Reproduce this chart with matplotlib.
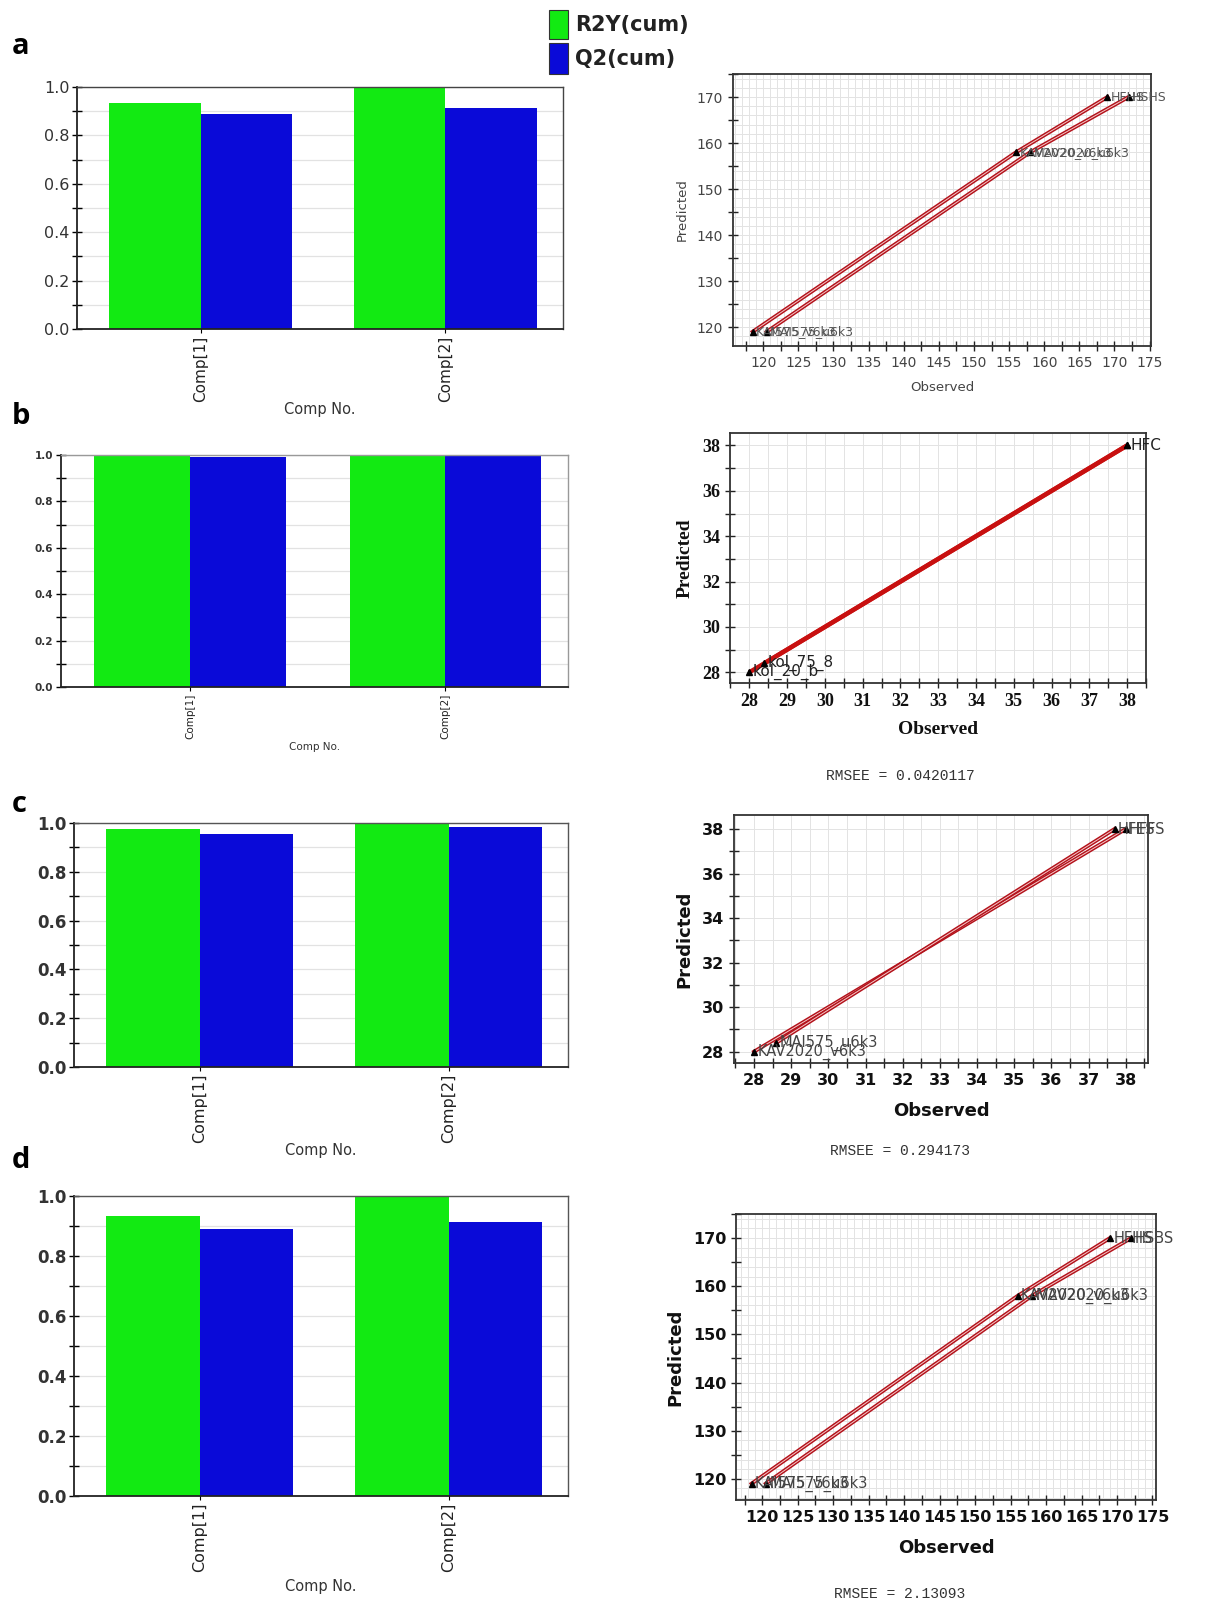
import numpy as np
import matplotlib
matplotlib.use('Agg')
import matplotlib.pyplot as plt
from matplotlib.patches import Rectangle
from matplotlib.ticker import MultipleLocator, FormatStrFormatter

W, H = 1207, 1604

# ---- data ----
comps = ['Comp[1]', 'Comp[2]']
r2y_a = [0.935, 1.0]
q2_a = [0.89, 0.915]
r2y_b = [1.0, 1.0]
q2_b = [0.99, 0.998]
r2y_c = [0.975, 1.0]
q2_c = [0.955, 0.985]
r2y_d = [0.935, 1.0]
q2_d = [0.89, 0.915]

# observed vs predicted, two fitted paths per panel
obs_a1 = [118.5, 156.0, 169.0]
pred_a1 = [119.0, 158.0, 170.0]
obs_a2 = [120.5, 158.0, 172.0]
pred_a2 = [119.0, 158.0, 170.0]
names_a1 = ['KAI575_v6k3', 'KAV2020_v6k3', 'HFHS']
names_a2 = ['MAI575_u6k3', 'MAV2020_u6k3', 'HSHS']

obs_b1 = [28.0, 38.0]
pred_b1 = [28.0, 38.0]
obs_b2 = [28.4, 38.0]
pred_b2 = [28.4, 38.0]
names_b1 = ['kol_20_b', 'HFC']
names_b2 = ['kol_75_8', '']

obs_c1 = [28.0, 38.0]
pred_c1 = [28.0, 38.0]
obs_c2 = [28.6, 37.7]
pred_c2 = [28.4, 38.0]
names_c1 = ['KAV2020_v6k3', 'HFFS']
names_c2 = ['MAI575_u6k3', 'HFES']

obs_d1 = [118.5, 156.0, 169.0]
pred_d1 = [119.0, 158.0, 170.0]
obs_d2 = [120.5, 158.0, 172.0]
pred_d2 = [119.0, 158.0, 170.0]
names_d1 = ['KAI575_v6k3', 'KAV2020_v6k3', 'HFHS']
names_d2 = ['MAI575_u6k3', 'MAV2020_u6k3', 'HSBS']

rmsee_b = 'RMSEE = 0.0420117'
rmsee_c = 'RMSEE = 0.294173'
rmsee_d = 'RMSEE = 2.13093'

GREEN = '#12ea12'
BLUE = '#0a0ad8'
RED = '#b3121b'

fig = plt.figure(figsize=(W / 100, H / 100), dpi=100)


def px_axes(l, t, r, b):
    return fig.add_axes([l / W, 1 - b / H, (r - l) / W, (b - t) / H])


def bar_panel(box, r2y, q2, tick_fs, comp_fs, lab_fs, bold=False,
              top_col='#555555', labelpad=2):
    ax = px_axes(*box)
    x = np.arange(len(comps))
    w = 0.375
    ax.bar(x - w / 2, r2y, w, color=GREEN, zorder=2)
    ax.bar(x + w / 2, q2, w, color=BLUE, zorder=2)
    ax.set_xlim(-0.505, 1.48)
    ax.set_ylim(0, 1.0)
    ax.yaxis.set_major_locator(MultipleLocator(0.2))
    ax.yaxis.set_minor_locator(MultipleLocator(0.1))
    ax.yaxis.set_major_formatter(FormatStrFormatter('%.1f'))
    ax.grid(axis='y', which='both', color='#e2e2e2', lw=0.9, zorder=0)
    ax.tick_params(axis='y', which='both', direction='inout', length=7,
                   width=1.0, labelsize=tick_fs, pad=2)
    ax.set_xticks(x)
    ax.set_xticklabels(comps, rotation=90, fontsize=comp_fs, color='#222222')
    ax.tick_params(axis='x', direction='inout', length=6, pad=2)
    for lbl in ax.get_yticklabels():
        lbl.set_fontweight('bold' if bold else 'normal')
        lbl.set_color('#333333')
    ax.set_xlabel('Comp No.', fontsize=lab_fs, color='#333333', labelpad=labelpad)
    for s in ('left', 'bottom'):
        ax.spines[s].set_color('#222222')
        ax.spines[s].set_linewidth(1.3)
    for s in ('top', 'right'):
        ax.spines[s].set_color(top_col)
        ax.spines[s].set_linewidth(1.0)
    return ax


def red_path(ax, xs, ys, solid=False):
    if solid:
        ax.plot(xs, ys, color='#c81010', lw=3.2, zorder=3, solid_capstyle='butt')
    else:
        ax.plot(xs, ys, color=RED, lw=2.8, zorder=3)
        ax.plot(xs, ys, color='#f6c9c9', lw=0.7, zorder=3)


def scatter_panel(box, xlim, ylim, xmaj, xmin, ymaj, ymin, gx, gy, series,
                  tick_fs, lab_fs, family, weight, tick_col, solid=False,
                  name_fs=9, name_col='#333333', xpad=8):
    ax = px_axes(*box)
    for xs, ys, names in series:
        red_path(ax, xs, ys, solid)
    for xs, ys, names in series:
        ax.plot(xs, ys, '^', color='black', ms=4.5, zorder=4, ls='none')
        for xv, yv, nm in zip(xs, ys, names):
            if nm:
                ax.text(xv + (xlim[1] - xlim[0]) * 0.008, yv, nm, fontsize=name_fs,
                        color=name_col, va='center', ha='left', zorder=5,
                        clip_on=False)
    ax.set_xlim(*xlim)
    ax.set_ylim(*ylim)
    ax.xaxis.set_major_locator(MultipleLocator(xmaj))
    ax.xaxis.set_minor_locator(MultipleLocator(xmin))
    ax.yaxis.set_major_locator(MultipleLocator(ymaj))
    ax.yaxis.set_minor_locator(MultipleLocator(ymin))
    # dense background grid
    for v in np.arange(np.ceil(xlim[0] / gx) * gx, xlim[1], gx):
        ax.axvline(v, color='#e3e3e3', lw=0.7, zorder=0)
    for v in np.arange(np.ceil(ylim[0] / gy) * gy, ylim[1], gy):
        ax.axhline(v, color='#e3e3e3', lw=0.7, zorder=0)
    ax.tick_params(which='both', direction='inout', length=7, width=1.0,
                   labelsize=tick_fs, colors='#222222', labelcolor=tick_col)
    for lbl in ax.get_xticklabels() + ax.get_yticklabels():
        lbl.set_family(family)
        lbl.set_fontweight(weight)
    ax.set_xlabel('Observed', fontsize=lab_fs, family=family, weight=weight,
                  color=tick_col, labelpad=xpad)
    ax.set_ylabel('Predicted', fontsize=lab_fs, family=family, weight=weight,
                  color=tick_col, labelpad=6)
    for s in ax.spines.values():
        s.set_color('#333333')
        s.set_linewidth(1.3)
    return ax


# ---- bar charts ----
bar_panel((77, 87, 563, 329), r2y_a, q2_a, 11.5, 11, 10.5, top_col='#444444',
          labelpad=0)
bar_panel((61, 455, 568, 687), r2y_b, q2_b, 7.5, 7.5, 7.5, bold=True, top_col='#999999')
bar_panel((74, 823, 568, 1067), r2y_c, q2_c, 12, 11.5, 10.5, bold=True, labelpad=0)
bar_panel((74, 1196, 568, 1496), r2y_d, q2_d, 12, 11.5, 10.5, bold=True, labelpad=5)

# ---- observed vs predicted ----
scatter_panel((733, 74, 1151, 346), (115.7, 175.2), (115.9, 175.0), 5, 2.5, 10, 5,
              1, 2, [(obs_a1, pred_a1, names_a1), (obs_a2, pred_a2, names_a2)],
              10, 9.5, 'DejaVu Sans', 'normal', '#444444', name_col='#555555')
scatter_panel((730, 433, 1146, 683), (27.49, 38.5), (27.53, 38.55), 1, 0.5, 2, 1,
              0.5, 1, [(obs_b1, pred_b1, names_b1), (obs_b2, pred_b2, names_b2)],
              13, 14, 'Liberation Serif', 'bold', '#111111', solid=True,
              name_fs=11, name_col='#222222')
scatter_panel((734, 815, 1148, 1063), (27.46, 38.6), (27.49, 38.63), 1, 0.5, 2, 1,
              0.5, 1, [(obs_c1, pred_c1, names_c1), (obs_c2, pred_c2, names_c2)],
              11.5, 13, 'DejaVu Sans', 'bold', '#111111', name_fs=10.5,
              name_col='#444444', xpad=10)
scatter_panel((736, 1214, 1156, 1500), (116.3, 175.5), (115.6, 175.0), 5, 2.5, 10, 5,
              1, 2, [(obs_d1, pred_d1, names_d1), (obs_d2, pred_d2, names_d2)],
              11.5, 13, 'DejaVu Sans', 'bold', '#111111', name_fs=10.5,
              name_col='#444444', xpad=10)

# RMSEE captions
for txt, y in [(rmsee_b, 776), (rmsee_c, 1151), (rmsee_d, 1594)]:
    fig.text(900 / W, 1 - y / H, txt, ha='center', va='center', fontsize=10.5,
             family='Liberation Mono', color='#333333')

# panel letters
for letter, y in [('a', 46), ('b', 417), ('c', 805), ('d', 1160)]:
    fig.text(12 / W, 1 - y / H, letter, fontsize=21, weight='bold',
             family='Open Sans', ha='left', va='center')

# legend
for col, y0, y1, lab in [(GREEN, 10, 39, 'R2Y(cum)'), (BLUE, 43, 74, 'Q2(cum)')]:
    fig.patches.append(Rectangle((549 / W, 1 - y1 / H), 19 / W, (y1 - y0) / H,
                                 transform=fig.transFigure, facecolor=col,
                                 edgecolor='#333333', lw=0.8))
    fig.text(575 / W, 1 - (y0 + y1) / 2 / H, lab, fontsize=15, weight='bold',
             family=['Liberation Sans Narrow', 'DejaVu Sans'],
             ha='left', va='center', color='#222222')

fig.savefig('out.png', dpi=100)
